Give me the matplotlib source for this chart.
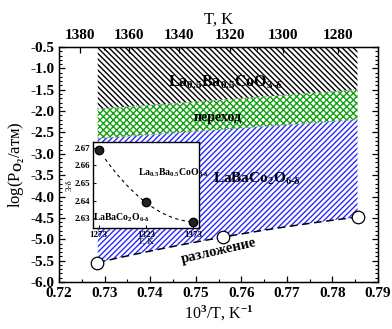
import numpy as np
import matplotlib

matplotlib.use("Agg")
import matplotlib.pyplot as plt
from matplotlib.ticker import MultipleLocator

plt.rcParams["font.family"] = ["Liberation Serif", "DejaVu Serif"]
plt.rcParams["font.weight"] = "bold"
plt.rcParams["mathtext.fontset"] = "custom"
plt.rcParams["mathtext.rm"] = "Liberation Serif:bold"
plt.rcParams["mathtext.it"] = "Liberation Serif:bold"
plt.rcParams["mathtext.bf"] = "Liberation Serif:bold"
plt.rcParams["hatch.linewidth"] = 1.0

# ── phase-diagram data ────────────────────────────────────────────────
region_x = [0.7285, 0.7855]        # 10^3/T span of the hatched regions
transition_top = [-1.95, -1.50]    # upper edge of the transition band
transition_bot = [-2.64, -2.20]    # lower edge of the transition band
plot_top = -0.5

decomp_x = [0.7283, 0.7560, 0.7856]   # decomposition points, 10^3/T
decomp_y = [-5.55, -4.95, -4.48]      # log(pO2/atm)

top_temps = [1380, 1360, 1340, 1320, 1300, 1280]

# ── inset: oxygen content vs temperature ────────────────────────────────
inset_T = [1273, 1323, 1373]
inset_content = [2.669, 2.639, 2.628]

fig = plt.figure(figsize=(3.92, 3.29), dpi=100)
ax = fig.add_axes([0.1505, 0.143, 0.8138, 0.714])

# decomposition boundary (quadratic trend through the points)
coef = np.polyfit(decomp_x, decomp_y, 2)
xb = np.linspace(region_x[0], region_x[1], 100)
yb = np.polyval(coef, xb)

bot_line = np.interp(xb, region_x, transition_bot)
top_line = np.interp(xb, region_x, transition_top)

ax.fill_between(xb, top_line, plot_top, facecolor="none", edgecolor="black",
                hatch="\\" * 6, linewidth=0)
ax.fill_between(xb, bot_line, top_line, facecolor="none", edgecolor="#10a010",
                hatch="x" * 5, linewidth=0)
ax.fill_between(xb, yb, bot_line, facecolor="none", edgecolor="#2a2aff",
                hatch="/" * 6, linewidth=0)
ax.plot(xb, top_line, color="0.6", lw=0.8, ls=":")
ax.plot(xb, bot_line, color="0.6", lw=0.8, ls=":")

ax.plot(xb, yb, color="black", lw=1.1, ls=(0, (5, 3)))
ax.plot(decomp_x, decomp_y, "o", ms=9, mfc="white", mec="black", mew=0.9,
        ls="none", zorder=5)

ax.text(0.7565, -1.33, r"La$_{0.5}$Ba$_{0.5}$CoO$_{3\text{-}δ}$", fontsize=11.5,
        ha="center", va="center")
ax.text(0.7549, -2.14, "переход", fontsize=10, ha="center", va="center")
ax.text(0.7634, -3.58, r"LaBaCo$_2$O$_{6\text{-}δ}$", fontsize=11,
        ha="center", va="center")
ax.text(0.7550, -5.27, "разложение", fontsize=10.5, ha="center", va="center",
        rotation=13)

ax.set_xlim(0.72, 0.79)
ax.set_ylim(-6.0, -0.5)
ax.xaxis.set_major_locator(MultipleLocator(0.01))
ax.xaxis.set_minor_locator(MultipleLocator(0.005))
ax.yaxis.set_major_locator(MultipleLocator(0.5))
ax.yaxis.set_minor_locator(MultipleLocator(0.1))
ax.xaxis.set_major_formatter(lambda v, p: f"{v:.2f}")
ax.yaxis.set_major_formatter(lambda v, p: f"{v:.1f}")
ax.tick_params(which="both", direction="in", right=True, labelsize=11)
ax.tick_params(which="major", length=4, width=0.9)
ax.tick_params(which="minor", length=2, width=0.8)
ax.set_xlabel(r"10$^3$/T, K$^{-1}$", fontsize=11.5, labelpad=3)
ax.set_ylabel(r"log(P$_{\mathrm{O_2}}$/атм)", fontsize=12, labelpad=2)
for s in ax.spines.values():
    s.set_linewidth(1.0)

# temperature scale on top
ax_top = ax.twiny()
ax_top.set_xlim(ax.get_xlim())
ax_top.set_xticks([1000 / t for t in top_temps])
ax_top.set_xticklabels([str(t) for t in top_temps])
ax_top.set_xticks([1000 / t for t in range(1370, 1270, -20)], minor=True)
ax_top.tick_params(which="both", direction="in", labelsize=11)
ax_top.tick_params(which="major", length=4, width=0.9)
ax_top.tick_params(which="minor", length=2, width=0.8)
ax_top.set_xlabel("T, K", fontsize=12, labelpad=4)

# inset
ins = fig.add_axes([0.237, 0.307, 0.270, 0.261])
Tc = np.linspace(1280, 1378, 80)
ccoef = np.polyfit(inset_T, inset_content, 2)
ins.plot(Tc, np.polyval(ccoef, Tc), color="black", lw=0.8, ls=(0, (3, 3)))
ins.plot(inset_T, inset_content, "o", ms=6, mfc="#222222", mec="black", ls="none")
ins.set_xlim(1267, 1379)
ins.set_ylim(2.6245, 2.6732)
ins.set_xticks(inset_T)
ins.yaxis.set_major_locator(MultipleLocator(0.01))
ins.yaxis.set_major_formatter(lambda v, p: f"{v:.2f}")
ins.tick_params(direction="in", labelsize=6.5, length=2.5, width=0.7, pad=2)
ins.set_xlabel("T, K", fontsize=6.5, labelpad=-1)
ins.set_ylabel(r"3-δ", fontsize=6.5, labelpad=1)
ins.text(1352, 2.656, r"La$_{0.5}$Ba$_{0.5}$CoO$_{3\text{-}δ}$", fontsize=7,
         ha="center", va="center")
ins.text(1297, 2.6305, r"LaBaCo$_2$O$_{6\text{-}δ}$", fontsize=7,
         ha="center", va="center")
ins.set_facecolor("white")
for s in ins.spines.values():
    s.set_linewidth(1.0)

fig.savefig("out.png", dpi=100)
